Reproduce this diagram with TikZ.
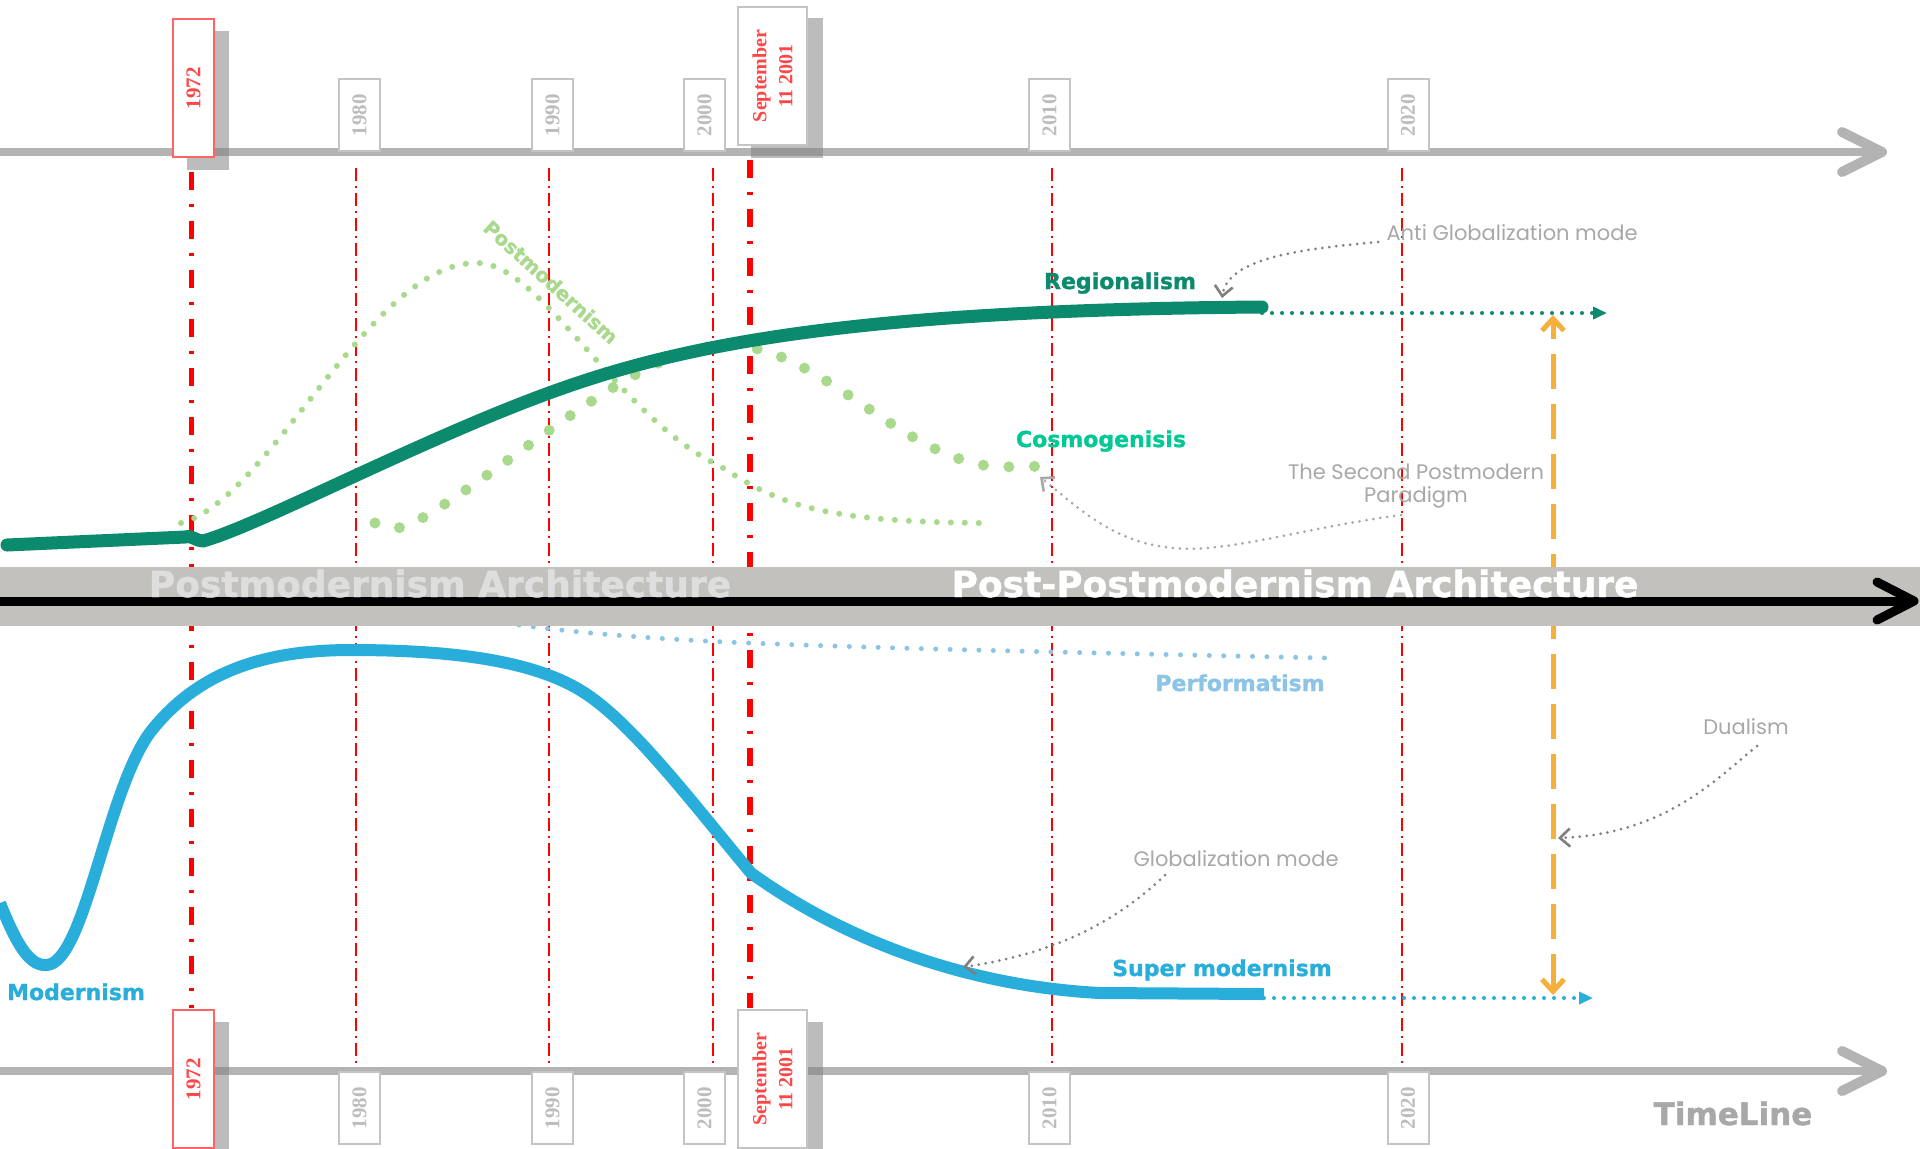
\documentclass[tikz,border=0pt]{standalone}
\usepackage{fontspec}
\setmainfont{Liberation Serif}
\newfontfamily\labfont{DejaVu Sans}[BoldFeatures={FakeBold=1.2}]
\newfontfamily\handfont{Poppins}
\usetikzlibrary{arrows.meta}
\definecolor{tlgray}{HTML}{B3B3B3}
\definecolor{boxgray}{HTML}{C4C4C4}
\definecolor{yeargray}{HTML}{BDBDBD}
\definecolor{redtxt}{HTML}{FF4545}
\definecolor{redbox}{HTML}{FF6464}
\definecolor{shadowgray}{HTML}{818181}
\definecolor{bandgray}{HTML}{C2C1BD}
\definecolor{bandtxt}{HTML}{DEDEDE}
\definecolor{regiongreen}{HTML}{0B8A6E}
\definecolor{cosmogreen}{HTML}{00C896}
\definecolor{pmgreen}{HTML}{A8D98C}
\definecolor{modblue}{HTML}{29AEDB}
\definecolor{perfblue}{HTML}{8CC4E6}
\definecolor{orangeA}{HTML}{F5B03B}
\definecolor{notegray}{HTML}{A8A8A8}
\definecolor{arrowgray}{HTML}{7F7F7F}
\newcommand{\yearfont}{\fontsize{10.5}{13}\selectfont\bfseries}
\newcommand{\septfont}{\fontsize{10}{13}\selectfont\bfseries}
\newcommand{\lblfont}{\labfont\bfseries\fontsize{11}{13}\selectfont}
\newcommand{\notefont}{\handfont\fontsize{10.5}{11.5}\selectfont}
\begin{document}
\begin{tikzpicture}[x=0.5pt,y=-0.5pt,
  yearbox/.style={draw=boxgray, line width=1pt, fill=white, rotate=90, minimum width=36pt, minimum height=20.5pt, inner sep=0pt, text=yeargray, font=\yearfont},
  redyearbox/.style={yearbox, draw=redbox, text=redtxt, minimum width=69pt},
  septbox/.style={yearbox, text=redtxt, minimum width=69pt, minimum height=34.5pt, align=center, font=\septfont},
  shadowbox/.style={fill=shadowgray, fill opacity=0.53},
  tlbar/.style={tlgray, line width=4pt},
  tlhead/.style={tlgray, line width=5pt, line cap=round, line join=round},
  thinred/.style={red, line width=1pt, dash pattern=on 6.5pt off 2.5pt on 1pt off 2.5pt},
  thickred/.style={red, line width=2.75pt, dash pattern=on 9pt off 7pt on 1.5pt off 7pt},
  regline/.style={regiongreen, line width=6.5pt, line cap=round, line join=round},
  modline/.style={modblue, line width=6pt, line cap=butt, line join=round},
  pmdots/.style={pmgreen, line width=3pt, line cap=round, dash pattern=on 0pt off 7pt},
  cosmodots/.style={pmgreen, line width=5.5pt, line cap=round, dash pattern=on 0pt off 12.8pt},
  perfdots/.style={perfblue, line width=2.5pt, line cap=round, dash pattern=on 0pt off 7.2pt},
  gdots/.style={regiongreen, line width=2pt, line cap=round, dash pattern=on 0pt off 5pt, -{Triangle[length=7pt,width=6pt]}},
  bdots/.style={modblue, line width=2pt, line cap=round, dash pattern=on 0pt off 5pt, -{Triangle[length=7pt,width=6pt]}},
  notearrow/.style={arrowgray, line width=1.5pt, line cap=round, dash pattern=on 0pt off 3.5pt, -{Straight Barb[length=5pt,width=9pt,line width=1.3pt]}},
  notearrowlight/.style={notearrow, color=notegray},
  orangearrow/.style={orangeA, line width=2.5pt, dash pattern=on 17.5pt off 7.5pt, {Straight Barb[length=6pt,width=11pt,line width=2.5pt]}-{Straight Barb[length=6pt,width=11pt,line width=2.5pt]}},
  bandlbl/.style={font=\labfont\bfseries\fontsize{18}{20}\selectfont, anchor=base, inner sep=0pt},
  curvelbl/.style={font=\lblfont, anchor=base, inner sep=0pt},
  note/.style={font=\notefont, text=notegray, inner sep=0pt, align=center}
]
\clip (0,0) rectangle (1920,1148);
\fill[white] (0,0) rectangle (1920,1148);

% timelines
\draw[tlbar] (0,152) -- (1878,152);
\draw[tlhead] (1842,132) -- (1882,152) -- (1842,172);
\draw[tlbar] (0,1071) -- (1878,1071);
\draw[tlhead] (1842,1051) -- (1882,1071) -- (1842,1091);

% shadows
\fill[shadowbox] (187,31) rectangle (229,170);
\fill[shadowbox] (751,18) rectangle (823,158);
\fill[shadowbox] (187,1022) rectangle (229,1160);
\fill[shadowbox] (751,1022) rectangle (823,1160);

% year boxes top
\node[redyearbox] (t1972) at (193.5,88) {1972};
\node[yearbox] (t1980) at (359.5,115) {1980};
\node[yearbox] (t1990) at (552.5,115) {1990};
\node[yearbox] (t2000) at (704.5,115) {2000};
\node[septbox] (tsept) at (772.5,76) {September\\11 2001};
\node[yearbox] (t2010) at (1049.5,115) {2010};
\node[yearbox] (t2020) at (1408,115) {2020};
% year boxes bottom
\node[redyearbox] (b1972) at (193.5,1079) {1972};
\node[yearbox] (b1980) at (359.5,1108) {1980};
\node[yearbox] (b1990) at (552.5,1108) {1990};
\node[yearbox] (b2000) at (704.5,1108) {2000};
\node[septbox] (bsept) at (772.5,1079) {September\\11 2001};
\node[yearbox] (b2010) at (1049.5,1108) {2010};
\node[yearbox] (b2020) at (1408,1108) {2020};

% red year lines
\draw[thinred] (356,168) -- (356,1066);
\draw[thinred] (549,168) -- (549,1066);
\draw[thinred] (713,168) -- (713,1066);
\draw[thinred] (1052,168) -- (1052,1066);
\draw[thinred] (1402,168) -- (1402,1066);
\draw[thickred] (191.5,172) -- (191.5,1008);
\draw[thickred] (750,160) -- (750,1008);

% Postmodernism dotted curve
\draw[pmdots] (181,523) .. controls (270,500) and (370,262) .. (477,263)
  .. controls (540,262) and (620,420) .. (720,466)
  .. controls (780,505) and (820,521) .. (979,523);
% Cosmogenisis dotted curve
\draw[cosmodots] (375,523) .. controls (390,532) and (400,530) .. (424,517)
  .. controls (520,460) and (640,345) .. (727,345)
  .. controls (820,345) and (900,460) .. (998,467) -- (1054,466);
% Regionalism
\draw[regline] (7,545) -- (185,537) .. controls (192,535) and (196,541) .. (203,541)
  .. controls (260,525) and (420,440) .. (549,393)
  .. controls (680,345) and (850,310) .. (1262,307);
\coordinate (regEnd) at (1262,313);
\coordinate (regTip) at (1607,313);
\draw[gdots] (regEnd) -- (regTip);
% Modernism / Super modernism
\draw[modline] (0,903) .. controls (15,940) and (28,966) .. (46,965)
  .. controls (85,965) and (107,786) .. (152,730)
  .. controls (197,674) and (260,650) .. (351,650)
  .. controls (450,650) and (530,660) .. (580,690)
  .. controls (630,720) and (690,800) .. (751,873)
  .. controls (830,930) and (950,985) .. (1100,993) -- (1264,994);
\coordinate (supEnd) at (1264,998);
\coordinate (supTip) at (1593,998);
\draw[bdots] (supEnd) -- (supTip);
% Performatism
\draw[perfdots] (519,625) .. controls (600,636) and (700,641) .. (749,643) .. controls (900,649) and (1100,653) .. (1325,658);

% Dualism double arrow
\coordinate (dualBot) at (1553,995);
\coordinate (dualTop) at (1553,315);
\draw[orangearrow] (dualBot) -- (dualTop);

% middle band
\fill[bandgray] (0,567) rectangle (1920,626);
\coordinate (midStart) at (0,601);
\coordinate (midTip) at (1914,601);
\draw[black, line width=4.5pt] (midStart) -- (midTip);
\draw[black, line width=4.5pt, line cap=round, line join=round] (1877,582) -- (midTip) -- (1877,620);
\node[bandlbl, text=bandtxt] (pmarch) at (440,597) {Postmodernism Architecture};
\node[bandlbl, text=white] (ppmarch) at (1295,597) {Post-Postmodernism Architecture};

% curve labels
\node[curvelbl, text=regiongreen] (lreg) at (1120,289) {Regionalism};
\node[curvelbl, text=cosmogreen] (lcos) at (1101,447) {Cosmogenisis};
\node[curvelbl, text=perfblue] (lperf) at (1240,691) {Performatism};
\node[curvelbl, text=modblue] (lsup) at (1222,976) {Super modernism};
\node[curvelbl, text=modblue] (lmod) at (76,1000) {Modernism};
\node[font=\labfont\bfseries\fontsize{9.8}{11}\selectfont, text=pmgreen, rotate=-42, inner sep=0pt] (lpm) at (551,282) {Postmodernism};
\node[font=\labfont\bfseries\fontsize{15.5}{17}\selectfont, text=notegray, anchor=base, inner sep=0pt] (ltime) at (1733,1125) {TimeLine};

% notes
\node[note] (nanti) at (1512,233) {Anti Globalization mode};
\node[note] (nsec) at (1416,486) {The Second Postmodern\\Paradigm};
\node[note] (nglob) at (1236,859) {Globalization mode};
\node[note] (ndual) at (1746,727) {Dualism};

\coordinate (antiS) at (1378,242);
\coordinate (antiT) at (1222,298);
\draw[notearrow] (antiS) .. controls (1300,249) and (1228,258) .. (antiT);
\coordinate (secS) at (1401,515);
\coordinate (secM) at (1165,547);
\coordinate (secT) at (1040,477);
\draw[notearrowlight] (secS) .. controls (1300,528) and (1220,556) .. (secM) .. controls (1110,540) and (1075,505) .. (secT);
\coordinate (dualS) at (1757,746);
\coordinate (dualT) at (1558,838);
\draw[notearrow] (dualS) .. controls (1715,780) and (1665,834) .. (dualT);
\coordinate (globS) at (1165,875);
\coordinate (globT) at (963,967);
\draw[notearrow] (globS) .. controls (1110,928) and (1045,955) .. (globT);
\end{tikzpicture}
\end{document}
